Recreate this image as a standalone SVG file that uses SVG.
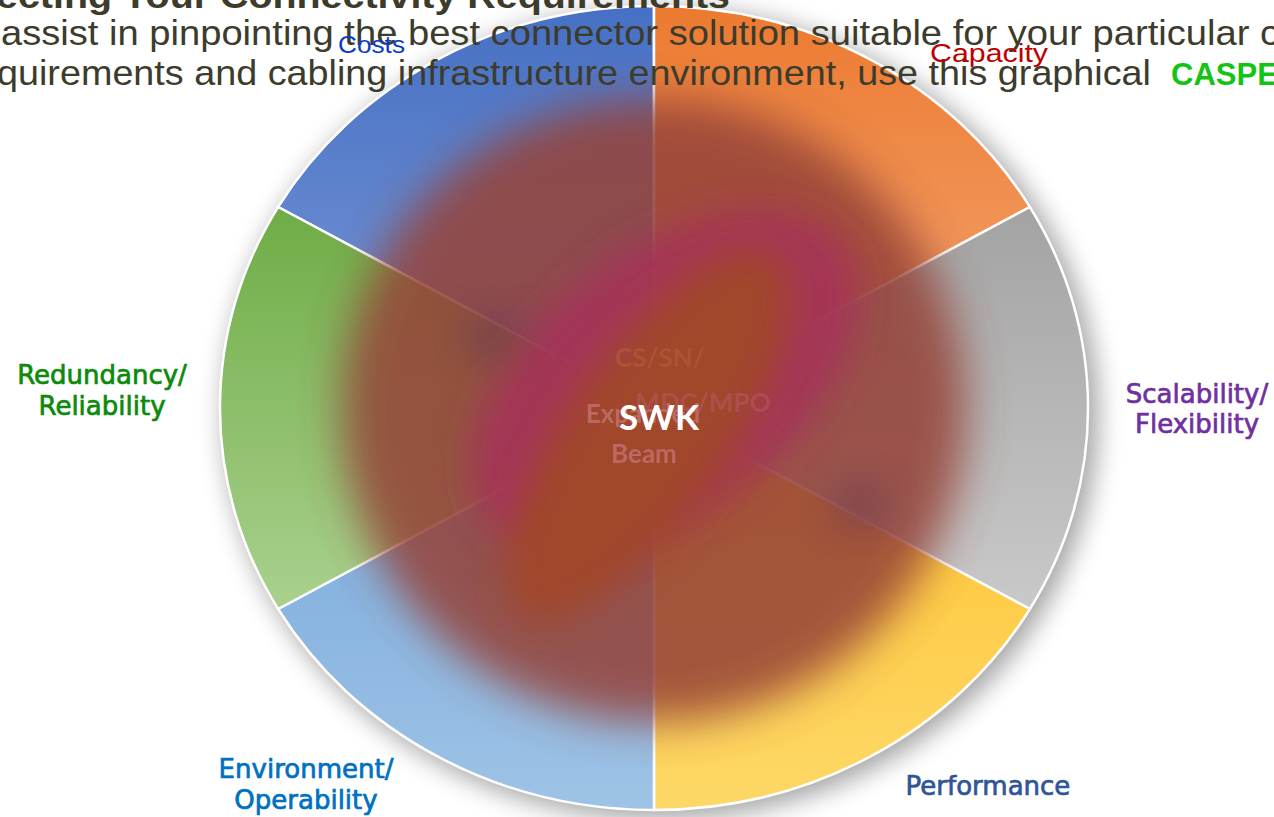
<svg xmlns="http://www.w3.org/2000/svg" width="1274" height="817" viewBox="0 0 1274 817">
<style>
.sec{stroke:#ffffff;stroke-width:2.5;stroke-linejoin:round}
.body{font-family:"Liberation Sans",Arial,sans-serif;fill:#3d3c2c;font-size:35px}
.lbl{font-family:"DejaVu Sans",Verdana,sans-serif;font-size:26px;text-anchor:middle;stroke-width:0.7}
.arial{font-family:"Liberation Sans",Arial,sans-serif}
.ctr{font-family:Lato,"Liberation Sans",sans-serif;font-weight:bold;font-size:26px}
</style>
<defs>
<linearGradient id="gCosts" x1="0" y1="0" x2="0" y2="1"><stop offset="0" stop-color="#4670c4"/><stop offset="1" stop-color="#7a98d6"/></linearGradient>
<linearGradient id="gCap" x1="0" y1="0" x2="0" y2="1"><stop offset="0" stop-color="#ec7a30"/><stop offset="1" stop-color="#f4a773"/></linearGradient>
<linearGradient id="gScal" x1="0" y1="0" x2="0" y2="1"><stop offset="0" stop-color="#a3a3a3"/><stop offset="1" stop-color="#c9c9c9"/></linearGradient>
<linearGradient id="gPerf" x1="0" y1="0" x2="0" y2="1"><stop offset="0" stop-color="#ffc22e"/><stop offset="1" stop-color="#fdd868"/></linearGradient>
<linearGradient id="gEnv" x1="0" y1="0" x2="0" y2="1"><stop offset="0" stop-color="#75a7db"/><stop offset="1" stop-color="#9ec3e6"/></linearGradient>
<linearGradient id="gRed" x1="0" y1="0" x2="0" y2="1"><stop offset="0" stop-color="#6fac46"/><stop offset="1" stop-color="#a9d18e"/></linearGradient>
<filter id="shadow" x="-20%" y="-20%" width="140%" height="140%"><feGaussianBlur stdDeviation="13"/></filter>
<filter id="blurBig" x="-30%" y="-30%" width="160%" height="160%"><feGaussianBlur stdDeviation="22"/></filter>
<filter id="blurMid" x="-40%" y="-40%" width="180%" height="180%"><feGaussianBlur stdDeviation="18"/></filter>
</defs>

<!-- shadow -->
<ellipse cx="661" cy="414" rx="437" ry="405" fill="#000" opacity="0.36" filter="url(#shadow)"/>

<g id="pie">
<g id="costs"><path class="sec" fill="url(#gCosts)" d="M654,408 L654,6 A434,402 0 0 0 278.1,207 Z"/></g>
<g id="capacity"><path class="sec" fill="url(#gCap)" d="M654,408 L654,6 A434,402 0 0 1 1029.9,207 Z"/></g>
<g id="scalability"><path class="sec" fill="url(#gScal)" d="M654,408 L1029.9,207 A434,402 0 0 1 1029.9,609 Z"/></g>
<g id="performance"><path class="sec" fill="url(#gPerf)" d="M654,408 L1029.9,609 A434,402 0 0 1 654,810 Z"/></g>
<g id="environment"><path class="sec" fill="url(#gEnv)" d="M654,408 L654,810 A434,402 0 0 1 278.1,609 Z"/></g>
<g id="redundancy"><path class="sec" fill="url(#gRed)" d="M654,408 L278.1,609 A434,402 0 0 1 278.1,207 Z"/></g>
</g>

<!-- blurred centre overlay -->
<g id="overlay">
<circle cx="654" cy="410" r="312" fill="#954337" opacity="0.86" filter="url(#blurBig)"/>
<ellipse cx="665" cy="382" rx="225" ry="130" transform="rotate(-38 665 382)" fill="#a6305a" opacity="0.88" filter="url(#blurMid)"/>
<ellipse cx="492" cy="335" rx="32" ry="28" fill="#6a3a55" opacity="0.5" filter="url(#blurMid)"/>
<ellipse cx="860" cy="505" rx="32" ry="28" fill="#6a3a55" opacity="0.45" filter="url(#blurMid)"/>
<ellipse cx="648" cy="435" rx="220" ry="80" transform="rotate(-55 648 435)" fill="#a1472c" filter="url(#blurMid)"/>
</g>

<g id="centre-labels">
<text class="ctr" x="660" y="367" text-anchor="middle" fill="#b0583a" opacity="0.75">CS/SN/</text>
<text class="ctr" x="703" y="412" text-anchor="middle" fill="#b85a6a" opacity="0.5">MDC/MPO</text>
<text class="ctr" x="643" y="423" text-anchor="middle" fill="#c47575" opacity="0.75">Expanded</text>
<text class="ctr" x="644" y="463" text-anchor="middle" fill="#c47575" opacity="0.75">Beam</text>
<text x="659" y="430" text-anchor="middle" fill="#ffffff" font-family="Lato,'Liberation Sans',sans-serif" font-weight="bold" font-size="35">SWK</text>
</g>

<g id="header">
<text class="body" x="-4" y="8" font-weight="bold" font-size="36" textLength="734" lengthAdjust="spacingAndGlyphs">ecting Your Connectivity Requirements</text>
<text class="body" x="1" y="45" textLength="1278" lengthAdjust="spacingAndGlyphs">assist in pinpointing the best connector solution suitable for your particular c</text>
<text class="body" x="-3" y="85" textLength="1154" lengthAdjust="spacingAndGlyphs">quirements and cabling infrastructure environment, use this graphical</text>
<text x="1171" y="85" fill="#14c414" font-family="Liberation Sans,Arial,sans-serif" font-weight="bold" font-size="31">CASPE</text>
</g>

<g id="labels">
<text class="arial" x="338" y="53" fill="#0a3acc" font-size="24" textLength="67" lengthAdjust="spacingAndGlyphs">Costs</text>
<text class="arial" x="930" y="62" fill="#c00000" font-size="26" textLength="118" lengthAdjust="spacingAndGlyphs">Capacity</text>
<text class="lbl" fill="#0b8a0b" stroke="#0b8a0b"><tspan x="102" y="384">Redundancy/</tspan><tspan x="102" y="415">Reliability</tspan></text>
<text class="lbl" fill="#7030a0" stroke="#7030a0"><tspan x="1197" y="403">Scalability/</tspan><tspan x="1197" y="433">Flexibility</tspan></text>
<text class="lbl" fill="#0070c0" stroke="#0070c0"><tspan x="306" y="778">Environment/</tspan><tspan x="306" y="809">Operability</tspan></text>
<text class="lbl" fill="#2f5597" stroke="#2f5597" x="988" y="795">Performance</text>
</g>
</svg>
